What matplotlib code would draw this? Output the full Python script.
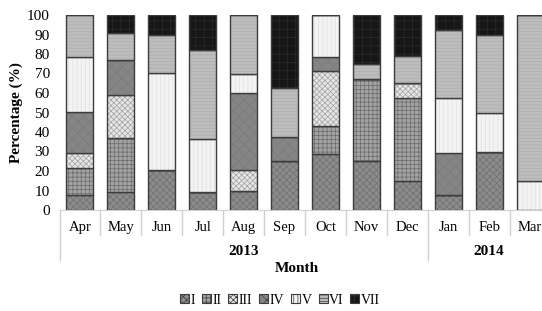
import matplotlib.pyplot as plt
from matplotlib.patches import Patch
import matplotlib.transforms as mtransforms

plt.rcParams['font.family'] = ['Liberation Serif', 'DejaVu Serif']
plt.rcParams['hatch.linewidth'] = 0.5

months = ["Apr", "May", "Jun", "Jul", "Aug", "Sep", "Oct", "Nov", "Dec", "Jan", "Feb", "Mar"]
classes = ["I", "II", "III", "IV", "V", "VI", "VII"]

# percentage of each class per month
cls_I = [7.5, 9, 20.5, 9, 10, 25, 28.5, 25, 15, 7.5, 30, 0]
cls_II = [14, 28, 0, 0, 0, 0, 14.5, 42, 42.5, 0, 0, 0]
cls_III = [7.5, 22, 0, 0, 10.5, 0, 28.5, 0, 7.5, 0, 0, 0]
cls_IV = [21.5, 18, 0, 0, 39.5, 12.5, 7, 0, 0, 21.5, 0, 0]
cls_V = [28, 0, 50, 27.5, 10, 0, 21.5, 0, 0, 28.5, 20, 15]
cls_VI = [21.5, 14, 19.5, 45.5, 30, 25, 0, 8, 14, 35, 40, 85]
cls_VII = [0, 9, 10, 18, 0, 37.5, 0, 25, 21, 7.5, 10, 0]
series = [cls_I, cls_II, cls_III, cls_IV, cls_V, cls_VI, cls_VII]

# fill, hatch, hatch colour
styles = [
    ("#8c8c8c", "xxxxx", "#6f6f6f"),
    ("#a3a3a3", "++++", "#6a6a6a"),
    ("#e6e6e6", "xxxxxx", "#a0a0a0"),
    ("#858585", "xxx", "#7a7a7a"),
    ("#f3f3f3", "||||", "#e0e0e0"),
    ("#bdbdbd", "-----", "#aeaeae"),
    ("#161616", "++", "#2c2c2c"),
]

fig = plt.figure(figsize=(5.42, 3.11), dpi=100)
ax = fig.add_axes([59.5 / 542, 101 / 311, 491 / 542, 195 / 311])

x = list(range(len(months)))
bottom = [0] * len(months)
for vals, (fc, hatch, hc) in zip(series, styles):
    ax.bar(x, vals, width=0.66, bottom=bottom, color=fc, hatch=hatch,
           edgecolor=hc, linewidth=0)
    ax.bar(x, vals, width=0.66, bottom=bottom, fill=False,
           edgecolor="#3c3c3c", linewidth=1.0)
    bottom = [b + v for b, v in zip(bottom, vals)]

ax.set_xlim(-0.5, len(months) - 0.5)
ax.set_ylim(0, 100)
ax.set_yticks(range(0, 101, 10))
ax.tick_params(axis="y", length=0, labelsize=11, pad=7)
ax.set_xticks(x)
ax.set_xticklabels(months, fontsize=10.5)
ax.tick_params(axis="x", length=0, pad=8)
for s in ["top", "right", "left"]:
    ax.spines[s].set_visible(False)
ax.spines["bottom"].set_color("#d0d0d0")
ax.set_ylabel("Percentage (%)", fontsize=11, fontweight="bold", labelpad=3)

# multi-level category separators
trans = mtransforms.blended_transform_factory(ax.transData, ax.transAxes)
for i in range(len(months) + 1):
    xb = i - 0.5
    low = -0.258 if i in (0, 9, 12) else -0.126
    ax.plot([xb, xb], [0, low], transform=trans, color="#d0d0d0",
            linewidth=1, clip_on=False)

ax.text(4, -0.215, "2013", transform=trans, ha="center", va="center",
        fontsize=11, fontweight="bold")
ax.text(10, -0.215, "2014", transform=trans, ha="center", va="center",
        fontsize=11, fontweight="bold")
fig.text(297 / 542, 1 - 269 / 311, "Month", ha="center", va="center",
         fontsize=11, fontweight="bold")

handles = [Patch(facecolor=fc, hatch=h, edgecolor="#3c3c3c", linewidth=0.8)
           for fc, h, hc in styles]
fig.legend(handles, classes, loc="center", bbox_to_anchor=(280 / 542, 1 - 300 / 311),
           ncol=7, frameon=False, fontsize=10, handlelength=0.65, handleheight=0.65,
           handletextpad=0.1, columnspacing=0.5, borderpad=0)

fig.savefig("out.png", dpi=100)
